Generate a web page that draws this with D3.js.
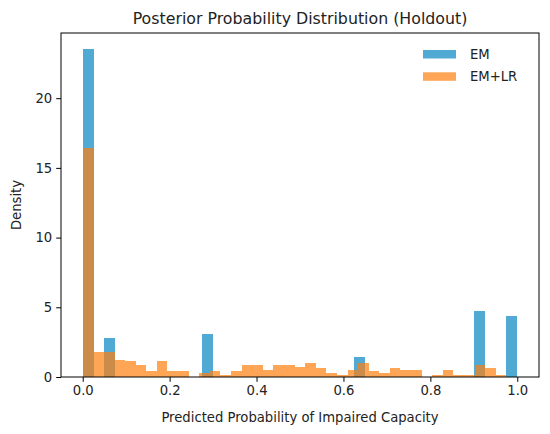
<!DOCTYPE html>
<html>
<head>
<meta charset="utf-8">
<script src="https://cdn.jsdelivr.net/npm/d3@7"></script>
<style>
  html, body { margin: 0; padding: 0; background: #fff; }
  svg { display: block; font-family: "DejaVu Sans", sans-serif; }
</style>
</head>
<body>
<svg id="chart" width="550" height="434"></svg>
<script>
// ---- data ----
const seriesNames = ["EM", "EM+LR"];
const emRange = [0, 1.0];
const emDensity = [23.5, 0, 2.83, 0, 0, 0, 0, 0, 0, 0,
                   0, 3.07, 0, 0, 0, 0, 0, 0, 0, 0,
                   0, 0, 0, 0, 0, 1.4, 0, 0, 0, 0,
                   0, 0, 0, 0, 0, 0, 4.75, 0, 0, 4.37];
const lrRange = [0, 0.975];
const lrDensity = [16.4, 1.82, 1.82, 1.25, 1.15, 0.86, 0.43, 1.15, 0.43, 0.43,
                   0, 0.29, 0.43, 0.17, 0.43, 0.86, 0.86, 0.53, 0.86, 0.86,
                   0.7, 1.03, 0.67, 0.29, 0.12, 0.53, 1.03, 0.45, 0.29, 0.67,
                   0.53, 0.53, 0, 0.12, 0.53, 0.12, 0.12, 0.86, 0.67, 0.12];
const xTicks = [0, 0.2, 0.4, 0.6, 0.8, 1.0];
const yTicks = [0, 5, 10, 15, 20];
const title = "Posterior Probability Distribution (Holdout)";
const xLabel = "Predicted Probability of Impaired Capacity";
const yLabel = "Density";

// ---- layout ----
const svg = d3.select("#chart");
const L = 61, R = 539, T = 33, B = 377;
const colors = { "EM": "#0586c2", "EM+LR": "#ff7f0e" };
const alpha = 0.7;

function toBins(range, dens) {
  const w = (range[1] - range[0]) / dens.length;
  return dens.map((d, i) => ({ x0: range[0] + i * w, x1: range[0] + (i + 1) * w, d }));
}
const emBins = toBins(emRange, emDensity);
const lrBins = toBins(lrRange, lrDensity);

const xMin = Math.min(emRange[0], lrRange[0]), xMax = Math.max(emRange[1], lrRange[1]);
const xPad = (xMax - xMin) * 0.05;
const x = d3.scaleLinear().domain([xMin - xPad, xMax + xPad]).range([L, R]);
const yMax = d3.max(emDensity.concat(lrDensity)) * 1.05;
const y = d3.scaleLinear().domain([0, yMax]).range([B, T]);

// bars
function drawBars(bins, name) {
  svg.append("g").selectAll("rect").data(bins.filter(b => b.d > 0)).join("rect")
    .attr("x", b => x(b.x0))
    .attr("width", b => x(b.x1) - x(b.x0))
    .attr("y", b => y(b.d))
    .attr("height", b => y(0) - y(b.d))
    .attr("fill", colors[name])
    .attr("fill-opacity", alpha)
    .attr("shape-rendering", "crispEdges");
}
drawBars(emBins, "EM");
drawBars(lrBins, "EM+LR");

// axes
const fs = 13.2;
const xAxis = d3.axisBottom(x).tickValues(xTicks).tickFormat(d3.format(".1f")).tickSizeInner(4.8).tickSizeOuter(0).tickPadding(4);
const yAxis = d3.axisLeft(y).tickValues(yTicks).tickFormat(d3.format("d")).tickSizeInner(4.8).tickSizeOuter(0).tickPadding(4);
const gx = svg.append("g").attr("transform", `translate(0,${B})`).call(xAxis);
const gy = svg.append("g").attr("transform", `translate(${L},0)`).call(yAxis);
[gx, gy].forEach(g => {
  g.select(".domain").remove();
  g.selectAll("line").attr("stroke", "#000").attr("stroke-width", 1);
  g.selectAll("text").attr("fill", "#222").style("font-size", fs + "px").style("font-family", "DejaVu Sans");
});

// frame
svg.append("rect").attr("x", L).attr("y", T).attr("width", R - L).attr("height", B - T)
  .attr("fill", "none").attr("stroke", "#000").attr("stroke-width", 1);

// title & labels
svg.append("text").attr("x", (L + R) / 2).attr("y", 24).attr("text-anchor", "middle")
  .style("font-size", "15.8px").attr("fill", "#222").text(title);
svg.append("text").attr("x", (L + R) / 2).attr("y", 422).attr("text-anchor", "middle")
  .style("font-size", fs + "px").attr("fill", "#222").text(xLabel);
svg.append("text").attr("transform", `translate(21,${(T + B) / 2}) rotate(-90)`).attr("text-anchor", "middle")
  .style("font-size", fs + "px").attr("fill", "#222").text(yLabel);

// legend
const lg = svg.append("g");
seriesNames.forEach((n, i) => {
  const yy = 50 + i * 22.3;
  lg.append("rect").attr("x", 423).attr("y", yy).attr("width", 33).attr("height", 8.5)
    .attr("fill", colors[n]).attr("fill-opacity", alpha);
  lg.append("text").attr("x", 470).attr("y", yy + 9).style("font-size", fs + "px")
    .attr("fill", "#222").text(n);
});
</script>
</body>
</html>
